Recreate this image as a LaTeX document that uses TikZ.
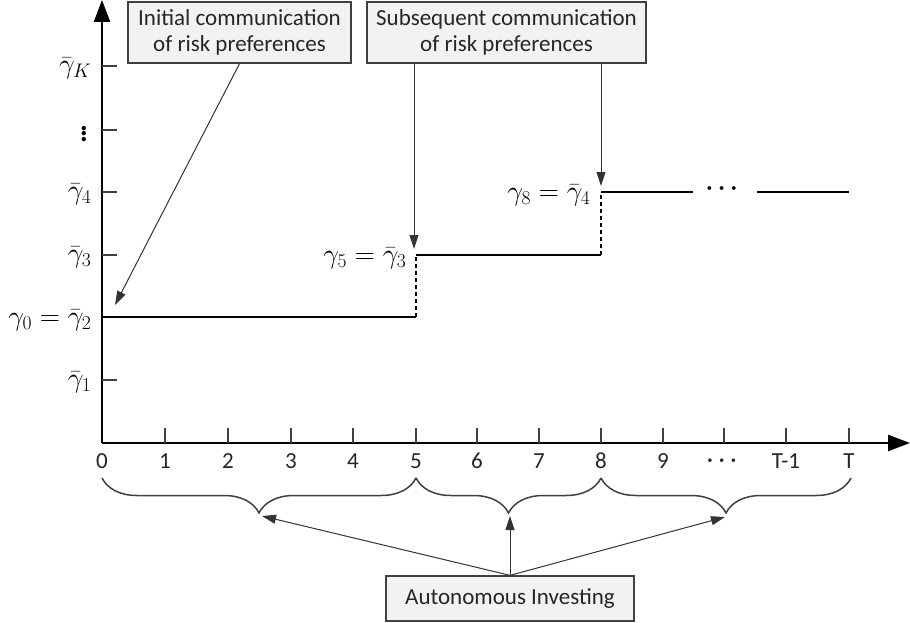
\documentclass[tikz,border=0pt]{standalone}
\usepackage{fix-cm}
\usepackage{amsmath}
\usepackage{fontspec}
\setmainfont{Carlito}
\usetikzlibrary{arrows.meta,decorations.pathreplacing}
\definecolor{boxfill}{HTML}{F2F2F2}
\definecolor{boxline}{HTML}{404040}
\definecolor{txt}{HTML}{262626}
\begin{document}
\begin{tikzpicture}[x=1pt,y=-1pt,
  box/.style={draw=boxline,fill=boxfill,line width=1.3pt,align=center,
    font=\fontsize{23}{25.5}\selectfont,text=txt,inner sep=0pt},
  axis/.style={line width=2.4pt,-{Triangle[length=22pt,width=16pt]}},
  tick/.style={line width=1.2pt,draw=boxline},
  ticklab/.style={font=\fontsize{23}{25}\selectfont,text=txt},
  ylab/.style={font=\fontsize{28}{32}\selectfont,anchor=east,text=black},
  stepline/.style={line width=2.8pt,line cap=butt},
  steprise/.style={line width=2.8pt,dash pattern=on 4pt off 3pt},
  conn/.style={line width=1pt,draw=black!80,-{Triangle[length=14pt,width=9pt]}},
  brc/.style={line width=1.5pt,draw=boxline,decorate,
    decoration={brace,mirror,amplitude=35pt}}]
\useasboundingbox (0,0) rectangle (910,623);

% axes
\coordinate (O) at (102,443);
\coordinate (ytop) at (102,0);
\coordinate (xend) at (910,443);
\draw[axis] (O) -- (ytop);
\draw[axis] (O) -- (xend);

% y ticks
\foreach \y/\lab [count=\i] in {66/{$\bar{\gamma}_K$},192/{$\bar{\gamma}_4$},255/{$\bar{\gamma}_3$},380/{$\bar{\gamma}_1$}}{
  \draw[tick] (102,\y) -- (117,\y);
  \node[ylab] (yl\i) at (95,\y+2) {\lab};
}
\draw[tick] (102,130) -- (117,130);
\node[ylab,font=\fontsize{36}{40}\selectfont] (ylv) at (92,131) {$\boldsymbol{\vdots}$};

% x ticks
\foreach \x/\lab [count=\i] in {102/0,165/1,228/2,291/3,353/4,416/5,477/6,539/7,601/8,663/9,724/{$\boldsymbol{\cdots}$},786/T-1,849/T}{
  \ifnum\i>1 \draw[tick] (\x,443) -- (\x,428); \fi
  \node[ticklab] (xl\i) at (\x,461) {\lab};
}

% step function
\coordinate (p0) at (102,317);
\coordinate (p5a) at (416,317);
\coordinate (p5b) at (416,255);
\coordinate (p8a) at (601,255);
\coordinate (p8b) at (601,192);
\coordinate (p9) at (693,192);
\coordinate (p10) at (757,192);
\coordinate (pT) at (849,192);
\draw[stepline] (p0) -- (p5a);
\draw[steprise] (p5a) -- (p5b);
\draw[stepline] (p5b) -- (p8a);
\draw[steprise] (p8a) -- (p8b);
\draw[stepline] (p8b) -- (p9);
\draw[stepline] (p10) -- (pT);
\node[font=\fontsize{24}{26}\selectfont] (dots) at (724,189) {$\boldsymbol{\cdots}$};

\node[ylab] (g0) at (95,320) {$\gamma_0=\bar{\gamma}_2$};
\node[ylab] (g5) at (410,258) {$\gamma_5=\bar{\gamma}_3$};
\node[ylab] (g8) at (594,195) {$\gamma_8=\bar{\gamma}_4$};

% boxes
\node[box,minimum width=223pt,minimum height=61pt] (b1) at (239.5,32.5) {Initial communication\\of risk preferences};
\node[box,minimum width=279pt,minimum height=61pt] (b2) at (506.5,32.5) {Subsequent communication\\of risk preferences};
\node[box,minimum width=248pt,minimum height=45pt] (b3) at (510,598.5) {Autonomous Investing};

% arrows from boxes
\coordinate (t0) at (115,305);
\coordinate (t5) at (414,249);
\coordinate (t8) at (601,186);
\draw[conn] (b1.south) -- (t0);
\draw[conn] (b2.south -| t5) -- (t5);
\draw[conn] (b2.south -| t8) -- (t8);

% braces
\coordinate (c0) at (102,478);
\coordinate (c5) at (416,478);
\coordinate (c8) at (601,478);
\coordinate (cT) at (851,478);
\draw[brc] (c0) -- (c5);
\draw[brc] (c5) -- (c8);
\draw[brc] (c8) -- (cT);
\coordinate (a1) at (262,516);
\coordinate (a2) at (510,516);
\coordinate (a3) at (725,517);
\draw[conn] (b3.north) -- (a1);
\draw[conn] (b3.north) -- (a2);
\draw[conn] (b3.north) -- (a3);
\end{tikzpicture}
\end{document}
